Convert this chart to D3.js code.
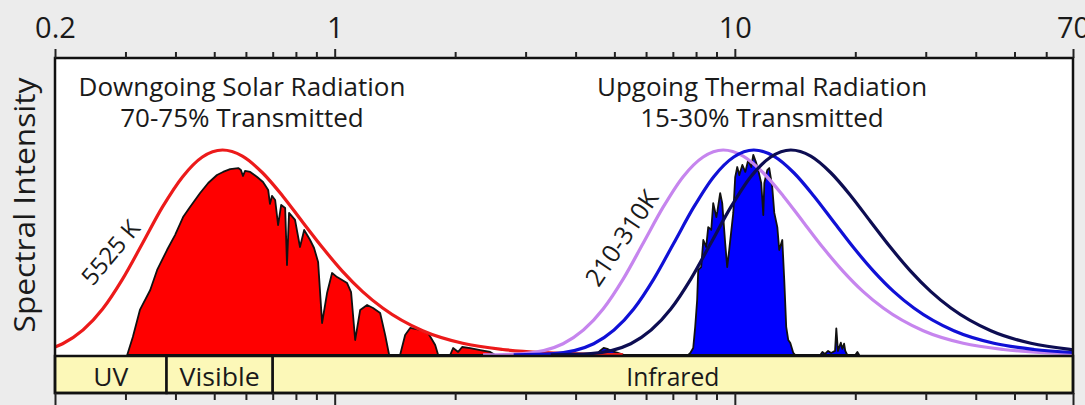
<!DOCTYPE html>
<html>
<head>
<meta charset="utf-8">
<script src="https://cdn.jsdelivr.net/npm/d3@7"></script>
<style>
    html, body { margin: 0; padding: 0; background: #ececec; }
    text { font-family: "Open Sans", sans-serif; fill: #1a1a1a; }
</style>
</head>
<body>
<svg id="chart"></svg>
<script>
"use strict";

const width = 1085;
const height = 405;

// wavelength axis (micrometres)
const axisDomain = [0.2, 70];
const labelTicks = [0.2, 1, 10, 70];
const minorTicks = [0.3, 0.4, 0.5, 0.6, 0.7, 0.8, 0.9, 2, 3, 4, 5, 6, 7, 8, 9, 20, 30, 40, 50, 60];

// spectral bands
const bandNames = ["UV", "Visible", "Infrared"];
const bandEdges = [0.2, 0.38, 0.7, 70];

// normalised blackbody level, shared by all four curves (peak = 1)
const blackbodyLevel = [0.0004, 0.007, 0.055, 0.224, 0.370, 0.545, 0.721, 0.870, 0.966, 1,
    0.970, 0.889, 0.776, 0.649, 0.523, 0.408, 0.309, 0.229, 0.118, 0.057, 0.027, 0.012, 0.005, 0.002];

// wavelengths at which the levels above were read, one list per curve
const sun5525Wl = [0.132, 0.166, 0.209, 0.263, 0.295, 0.331, 0.371, 0.417, 0.467, 0.5245,
    0.588, 0.660, 0.741, 0.831, 0.933, 1.046, 1.174, 1.318, 1.659, 2.088, 2.629, 3.310, 4.166, 5.245];
const earth310Wl = [2.349, 2.957, 3.722, 4.686, 5.258, 5.900, 6.619, 7.427, 8.334, 9.35,
    10.49, 11.77, 13.21, 14.82, 16.62, 18.65, 20.93, 23.49, 29.57, 37.22, 46.86, 59.00, 74.27, 93.5];
const earth260Wl = [2.801, 3.526, 4.439, 5.588, 6.270, 7.036, 7.893, 8.856, 9.938, 11.15,
    12.51, 14.04, 15.75, 17.67, 19.82, 22.24, 24.96, 28.01, 35.26, 44.39, 55.88, 70.36, 88.56, 111.5];
const earth210Wl = [3.467, 4.364, 5.494, 6.917, 7.760, 8.708, 9.769, 10.96, 12.30, 13.8,
    15.48, 17.37, 19.50, 21.87, 24.54, 27.53, 30.90, 34.67, 43.64, 54.94, 69.17, 87.08, 109.6, 138.0];

// transmitted solar spectrum [wavelength, level]
const solarTransmitted = [
    [0.303, 0], [0.313, 0.088], [0.326, 0.22], [0.346, 0.317], [0.360, 0.415], [0.381, 0.512],
    [0.399, 0.585], [0.418, 0.673], [0.435, 0.722], [0.461, 0.790], [0.483, 0.839], [0.508, 0.878],
    [0.526, 0.893], [0.548, 0.907], [0.574, 0.912], [0.583, 0.902], [0.590, 0.873], [0.597, 0.898],
    [0.615, 0.893], [0.640, 0.868], [0.662, 0.844], [0.682, 0.805], [0.689, 0.737], [0.697, 0.776],
    [0.710, 0.756], [0.722, 0.634], [0.735, 0.732], [0.752, 0.717], [0.760, 0.439], [0.769, 0.693],
    [0.796, 0.659], [0.819, 0.527], [0.839, 0.610], [0.868, 0.561], [0.888, 0.522], [0.909, 0.454],
    [0.930, 0.156], [0.957, 0.302], [0.985, 0.400], [1.014, 0.380], [1.074, 0.351], [1.099, 0.307],
    [1.125, 0.073], [1.158, 0.220], [1.205, 0.244], [1.247, 0.229], [1.299, 0.205], [1.337, 0.098],
    [1.368, 0], [1.457, 0], [1.500, 0.098], [1.544, 0.132], [1.635, 0.122], [1.712, 0.107],
    [1.783, 0.049], [1.814, 0], [1.943, 0], [1.977, 0.034], [2.035, 0.015], [2.082, 0.039],
    [2.180, 0.034], [2.310, 0.024], [2.447, 0.015], [2.518, 0]
];

// transmitted thermal spectrum [wavelength, level]
const thermalTransmitted = [
    [4.50, 0], [4.60, 0.02], [4.70, 0.035], [4.80, 0.03], [4.90, 0.02], [5.10, 0.01], [5.30, 0],
    [7.65, 0], [7.74, 0.010], [7.87, 0.034], [7.96, 0.137], [8.05, 0.268], [8.10, 0.415],
    [8.24, 0.429], [8.34, 0.561], [8.48, 0.527], [8.58, 0.624], [8.73, 0.610], [8.83, 0.741],
    [8.99, 0.673], [9.04, 0.698], [9.19, 0.790], [9.30, 0.741], [9.46, 0.546], [9.57, 0.429],
    [9.68, 0.512], [9.91, 0.693], [10.02, 0.868], [10.14, 0.917], [10.26, 0.878], [10.44, 0.927],
    [10.62, 0.893], [10.80, 0.951], [10.99, 0.917], [11.12, 0.976], [11.31, 0.937], [11.44, 0.902],
    [11.64, 0.839], [11.78, 0.683], [11.85, 0.839], [12.05, 0.902], [12.19, 0.912], [12.40, 0.820],
    [12.55, 0.693], [12.77, 0.624], [12.91, 0.512], [13.14, 0.561], [13.29, 0.366], [13.44, 0.137],
    [13.60, 0.073], [13.76, 0.059], [14.00, 0.010], [14.16, 0],
    [16.35, 0], [16.55, 0.015], [16.80, 0.005], [17.10, 0.02], [17.40, 0.01], [17.80, 0.02],
    [17.93, 0.13], [18.10, 0.02], [18.40, 0.06], [18.56, 0.03], [18.75, 0.055], [18.88, 0.02],
    [19.10, 0], [20.00, 0], [20.24, 0.015], [20.45, 0]
];

const curves = [
    { wl: sun5525Wl, color: "#ec1a1a" },
    { wl: earth310Wl, color: "#c685ee" },
    { wl: earth260Wl, color: "#1010d6" },
    { wl: earth210Wl, color: "#0d0d52" }
];

const plotLeft = 55, plotRight = 1073, plotTop = 58, baseY = 356, bandBottom = 393;

const x = d3.scaleLog().domain(axisDomain).range([plotLeft, plotRight]);
const y = d3.scaleLinear().domain([0, 1]).range([355, 150]);

const svg = d3.select("#chart")
    .attr("width", width)
    .attr("height", height);

svg.append("rect")
    .attr("width", width).attr("height", height)
    .attr("fill", "#ececec");

svg.append("rect")
    .attr("x", plotLeft).attr("y", plotTop)
    .attr("width", plotRight - plotLeft).attr("height", baseY - plotTop)
    .attr("fill", "#ffffff");

svg.append("clipPath").attr("id", "plot-clip")
    .append("rect")
    .attr("x", plotLeft).attr("y", plotTop)
    .attr("width", plotRight - plotLeft).attr("height", baseY - plotTop);

const plot = svg.append("g").attr("clip-path", "url(#plot-clip)");

// transmitted spectra
const area = d3.area()
    .x(d => x(d[0]))
    .y0(y(0))
    .y1(d => y(d[1]));

plot.append("path")
    .datum(solarTransmitted)
    .attr("d", area)
    .attr("fill", "#ff0000")
    .attr("stroke", "#111")
    .attr("stroke-width", 1.8)
    .attr("stroke-linejoin", "round");

plot.append("path")
    .datum(thermalTransmitted)
    .attr("d", area)
    .attr("fill", "#0000ff")
    .attr("stroke", "#111")
    .attr("stroke-width", 1.8)
    .attr("stroke-linejoin", "round");

// blackbody curves
const line = d3.line()
    .x(d => x(d[0]))
    .y(d => y(d[1]))
    .curve(d3.curveMonotoneX);

curves.forEach(c => {
    plot.append("path")
        .datum(c.wl.map((w, i) => [w, blackbodyLevel[i]]))
        .attr("d", line)
        .attr("fill", "none")
        .attr("stroke", c.color)
        .attr("stroke-width", 3.2);
});

// band strip
const bands = svg.append("g");
bands.selectAll("rect")
    .data(bandNames)
    .join("rect")
    .attr("x", (d, i) => x(bandEdges[i]))
    .attr("y", baseY)
    .attr("width", (d, i) => x(bandEdges[i + 1]) - x(bandEdges[i]))
    .attr("height", bandBottom - baseY)
    .attr("fill", "#fcf8b8")
    .attr("stroke", "#111")
    .attr("stroke-width", 2.5);

const bandTextWidths = [35, 80, 93];
bands.selectAll("text")
    .data(bandNames)
    .join("text")
    .attr("x", (d, i) => (x(bandEdges[i]) + x(bandEdges[i + 1])) / 2)
    .attr("y", 386)
    .attr("text-anchor", "middle")
    .attr("font-size", 26)
    .attr("textLength", (d, i) => bandTextWidths[i])
    .attr("lengthAdjust", "spacingAndGlyphs")
    .text(d => d);

// frame
svg.append("rect")
    .attr("x", plotLeft).attr("y", plotTop)
    .attr("width", plotRight - plotLeft).attr("height", bandBottom - plotTop)
    .attr("fill", "none")
    .attr("stroke", "#111")
    .attr("stroke-width", 2.5);

// axes
const styleAxis = g => {
    g.select(".domain").remove();
    g.selectAll("line").attr("stroke", "#222").attr("stroke-width", 2);
};

svg.append("g")
    .attr("transform", `translate(0, ${plotTop})`)
    .call(d3.axisTop(x).tickValues(minorTicks).tickSize(6).tickFormat(""))
    .call(styleAxis);

svg.append("g")
    .attr("transform", `translate(0, ${plotTop})`)
    .call(d3.axisTop(x).tickValues(labelTicks).tickSize(9).tickPadding(11).tickFormat(d => d))
    .call(styleAxis)
    .call(g => g.selectAll("text")
        .attr("font-size", 29)
        .attr("fill", "#1a1a1a")
        .style("font-family", "'Open Sans', sans-serif"));

svg.append("g")
    .attr("transform", `translate(0, ${bandBottom})`)
    .call(d3.axisBottom(x).tickValues(minorTicks).tickSize(7).tickFormat(""))
    .call(styleAxis);

svg.append("g")
    .attr("transform", `translate(0, ${bandBottom})`)
    .call(d3.axisBottom(x).tickValues(labelTicks).tickSize(14).tickFormat(""))
    .call(styleAxis);

// y label
svg.append("text")
    .attr("transform", "translate(35, 205) rotate(-90)")
    .attr("text-anchor", "middle")
    .attr("font-size", 29)
    .attr("textLength", 255)
    .attr("lengthAdjust", "spacingAndGlyphs")
    .attr("fill", "#333")
    .text("Spectral Intensity");

// titles
const titles = [
    { x: 242, lines: ["Downgoing Solar Radiation", "70-75% Transmitted"] },
    { x: 762, lines: ["Upgoing Thermal Radiation", "15-30% Transmitted"] }
];
titles.forEach(t => {
    t.lines.forEach((s, i) => {
        svg.append("text")
            .attr("x", t.x)
            .attr("y", 96 + i * 31)
            .attr("text-anchor", "middle")
            .attr("font-size", 26)
            .text(s);
    });
});

// curve labels
svg.append("text")
    .attr("transform", "translate(117, 258) rotate(-50)")
    .attr("text-anchor", "middle")
    .attr("font-size", 24)
    .text("5525 K");

svg.append("text")
    .attr("transform", "translate(629, 243) rotate(-56)")
    .attr("text-anchor", "middle")
    .attr("font-size", 25)
    .text("210-310K");
</script>
</body>
</html>
